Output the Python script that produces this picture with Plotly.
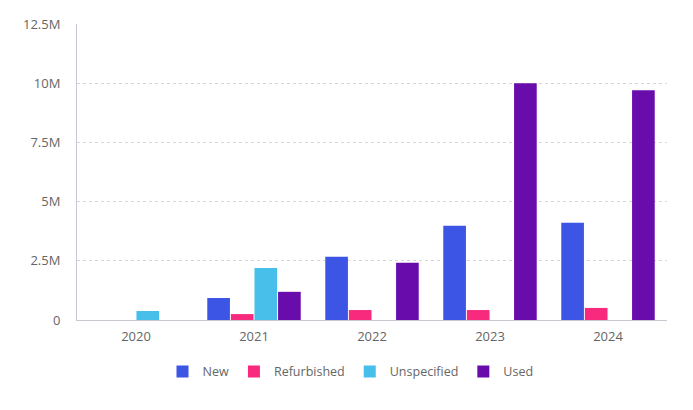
import plotly.graph_objects as go

years = ["2020", "2021", "2022", "2023", "2024"]
new = [None, 0.93e6, 2.67e6, 3.98e6, 4.11e6]
refurbished = [None, 0.25e6, 0.42e6, 0.42e6, 0.51e6]
unspecified = [0.38e6, 2.2e6, None, None, None]
used = [None, 1.19e6, 2.42e6, 10.0e6, 9.7e6]

series = [
    ("New", new, "#3d55e5"),
    ("Refurbished", refurbished, "#f72a7e"),
    ("Unspecified", unspecified, "#47bfea"),
    ("Used", used, "#680cab"),
]

fig = go.Figure()
for name, vals, color in series:
    fig.add_trace(go.Bar(x=years, y=vals, name=name, marker_color=color, marker_line_width=0))

# page body adds 8px offset, so the figure is sized a bit smaller
fig.update_layout(
    width=685, height=402,
    margin=dict(l=69, r=26, t=16, b=90),
    barmode="group", bargap=0.2, bargroupgap=0.04,
    plot_bgcolor="white", paper_bgcolor="white",
    font=dict(family="Open Sans", size=13, color="#666666"),
    legend=dict(orientation="h", xref="container", x=0.5, xanchor="center",
                yref="container", y=0.095, yanchor="middle",
                font=dict(size=12.5), itemwidth=30),
    showlegend=True,
)
fig.update_xaxes(showline=True, linecolor="#c8c8d0", linewidth=1, ticks="", showgrid=False,
                 ticklabelstandoff=4, automargin=False)
fig.update_yaxes(range=[0, 12.5e6], dtick=2.5e6, tickformat="~s", showline=True,
                 linecolor="#c8c8d0", linewidth=1, gridcolor="#d6d6d6", griddash="dot",
                 zeroline=False, ticklabelstandoff=13, automargin=False)

fig.write_html("out.html")
